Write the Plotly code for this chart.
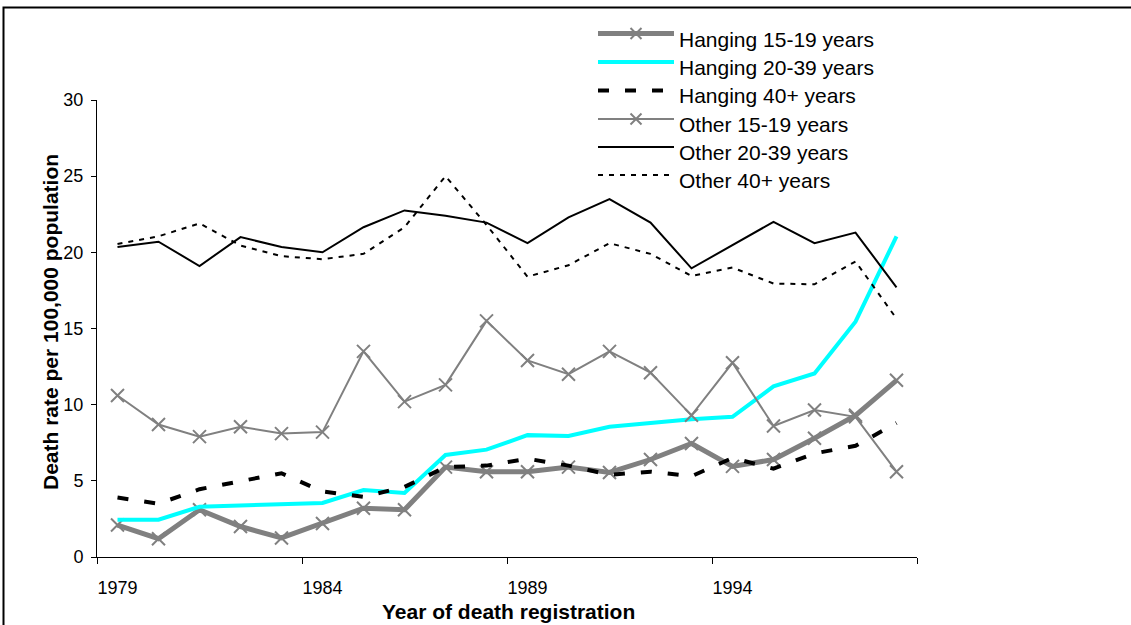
import plotly.graph_objects as go

years = list(range(1979, 1999))
tick_years = [1979, 1984, 1989, 1994]
tick_labels = ["1979", "1984", "1989", "1994"]

hanging_15_19 = [2.1, 1.2, 3.1, 2.0, 1.25, 2.2, 3.2, 3.1, 5.9, 5.6, 5.6, 5.9, 5.55, 6.4, 7.45, 5.95, 6.4, 7.8, 9.3, 11.6]
hanging_20_39 = [2.45, 2.45, 3.3, 3.4, 3.45, 3.55, 4.4, 4.2, 6.7, 7.05, 8.0, 7.95, 8.55, 8.8, 9.05, 9.2, 11.2, 12.05, 15.45, 21.05]
hanging_40 = [3.9, 3.5, 4.45, 5.0, 5.5, 4.3, 3.95, 4.6, 5.9, 6.0, 6.45, 6.0, 5.4, 5.6, 5.3, 6.5, 5.8, 6.8, 7.3, 8.8]
other_15_19 = [10.6, 8.7, 7.9, 8.55, 8.1, 8.2, 13.5, 10.2, 11.3, 15.5, 12.9, 12.0, 13.5, 12.1, 9.3, 12.75, 8.6, 9.65, 9.2, 5.6]
other_20_39 = [20.35, 20.7, 19.1, 21.0, 20.35, 20.0, 21.65, 22.75, 22.4, 21.95, 20.6, 22.3, 23.5, 21.95, 18.95, 20.45, 22.0, 20.6, 21.3, 17.7]
other_40 = [20.55, 21.05, 21.9, 20.45, 19.75, 19.55, 19.9, 21.65, 25.0, 21.8, 18.4, 19.15, 20.6, 19.9, 18.45, 19.0, 17.95, 17.9, 19.4, 15.65]

names = ["Hanging 15-19 years", "Hanging 20-39 years", "Hanging 40+ years",
         "Other 15-19 years", "Other 20-39 years", "Other 40+ years"]

GRAY = "#808080"
FONT = "Arial, Liberation Sans, sans-serif"

styles = [
    dict(color=GRAY, width=5, dash="solid", marker=True),
    dict(color="#00FFFF", width=4, dash="solid", marker=False),
    dict(color="black", width=4, dash="11px,16px", marker=False),
    dict(color=GRAY, width=2, dash="solid", marker=True),
    dict(color="black", width=2, dash="solid", marker=False),
    dict(color="black", width=2, dash="5px,6px", marker=False),
]
series = [hanging_15_19, hanging_20_39, hanging_40, other_15_19, other_20_39, other_40]

fig = go.Figure()
for name, vals, st in zip(names, series, styles):
    fig.add_trace(go.Scatter(
        x=years, y=vals, name=name,
        mode="lines+markers" if st["marker"] else "lines",
        line=dict(color=st["color"], width=st["width"], dash=st["dash"]),
        marker=dict(symbol="x-thin", size=13, line=dict(width=2, color=GRAY)),
        showlegend=False,
    ))

W_FIG, H_FIG = 1131, 625
L, R, T, B = 97, 917, 100, 557
PW, PH = R - L, B - T

def px(xp):
    return (xp - L) / PW

def py(yp):
    return (B - yp) / PH

shapes = []
annotations = []

# outer frame (top and left edges visible)
shapes.append(dict(type="rect", xref="paper", yref="paper",
                   x0=px(3.5), x1=px(1150), y0=py(660), y1=py(7.5),
                   line=dict(color="black", width=2), fillcolor="rgba(0,0,0,0)", layer="below"))

# custom legend
leg_line_y = [33.5, 62, 90.5, 119, 147, 175]
leg_x0, leg_x1 = 598, 674
for i, (name, st) in enumerate(zip(names, styles)):
    yy = py(leg_line_y[i])
    shapes.append(dict(type="line", xref="paper", yref="paper",
                       x0=px(leg_x0), x1=px(leg_x1), y0=yy, y1=yy,
                       line=dict(color=st["color"], width=st["width"], dash=st["dash"])))
    if st["marker"]:
        xc = px((leg_x0 + leg_x1) / 2)
        for sgn in (1, -1):
            shapes.append(dict(type="line", xref="paper", yref="paper",
                               xsizemode="pixel", ysizemode="pixel",
                               xanchor=xc, yanchor=yy,
                               x0=-5.5, x1=5.5, y0=-5.5 * sgn, y1=5.5 * sgn,
                               line=dict(color=GRAY, width=2)))
    annotations.append(dict(xref="paper", yref="paper", x=px(677), y=py(leg_line_y[i] + 5.5),
                            xanchor="left", yanchor="middle", showarrow=False,
                            text=name, font=dict(family=FONT, size=21, color="black")))

# axis titles
annotations.append(dict(xref="paper", yref="paper", x=px(508), y=py(611),
                        xanchor="center", yanchor="middle", showarrow=False,
                        text="<b>Year of death registration</b>",
                        font=dict(family=FONT, size=21, color="black")))
annotations.append(dict(xref="paper", yref="paper", x=px(50), y=py(322),
                        xanchor="center", yanchor="middle", showarrow=False, textangle=-90,
                        text="<b>Death rate per 100,000 population</b>",
                        font=dict(family=FONT, size=21, color="black")))

fig.update_layout(
    width=W_FIG, height=H_FIG,
    margin=dict(l=L, r=W_FIG - R, t=T, b=H_FIG - B, pad=0),
    paper_bgcolor="white", plot_bgcolor="white",
    font=dict(family=FONT, size=18, color="black"),
    showlegend=False,
    shapes=shapes, annotations=annotations,
    xaxis=dict(
        range=[1978.5, 1998.5], tickmode="array", tickvals=tick_years, ticktext=tick_labels,
        ticks="", showline=True, linecolor="black", linewidth=1, showgrid=False, zeroline=False,
        tickfont=dict(family=FONT, size=18, color="black"), ticklabelstandoff=14,
        minor=dict(tickmode="array", tickvals=[1978.5, 1983.5, 1988.5, 1993.5, 1998.5],
                   ticks="outside", ticklen=6, tickwidth=1, tickcolor="black", showgrid=False),
    ),
    yaxis=dict(
        range=[0, 30], tickmode="array", tickvals=[0, 5, 10, 15, 20, 25, 30],
        ticks="outside", ticklen=5, tickwidth=1, tickcolor="black",
        showline=True, linecolor="black", linewidth=1, showgrid=False, zeroline=False,
        tickfont=dict(family=FONT, size=18, color="black"), ticklabelstandoff=4,
    ),
)

fig.write_html("out.html", config={"displayModeBar": False},
               post_script="document.body.style.margin='0px';document.body.style.overflow='hidden';")
